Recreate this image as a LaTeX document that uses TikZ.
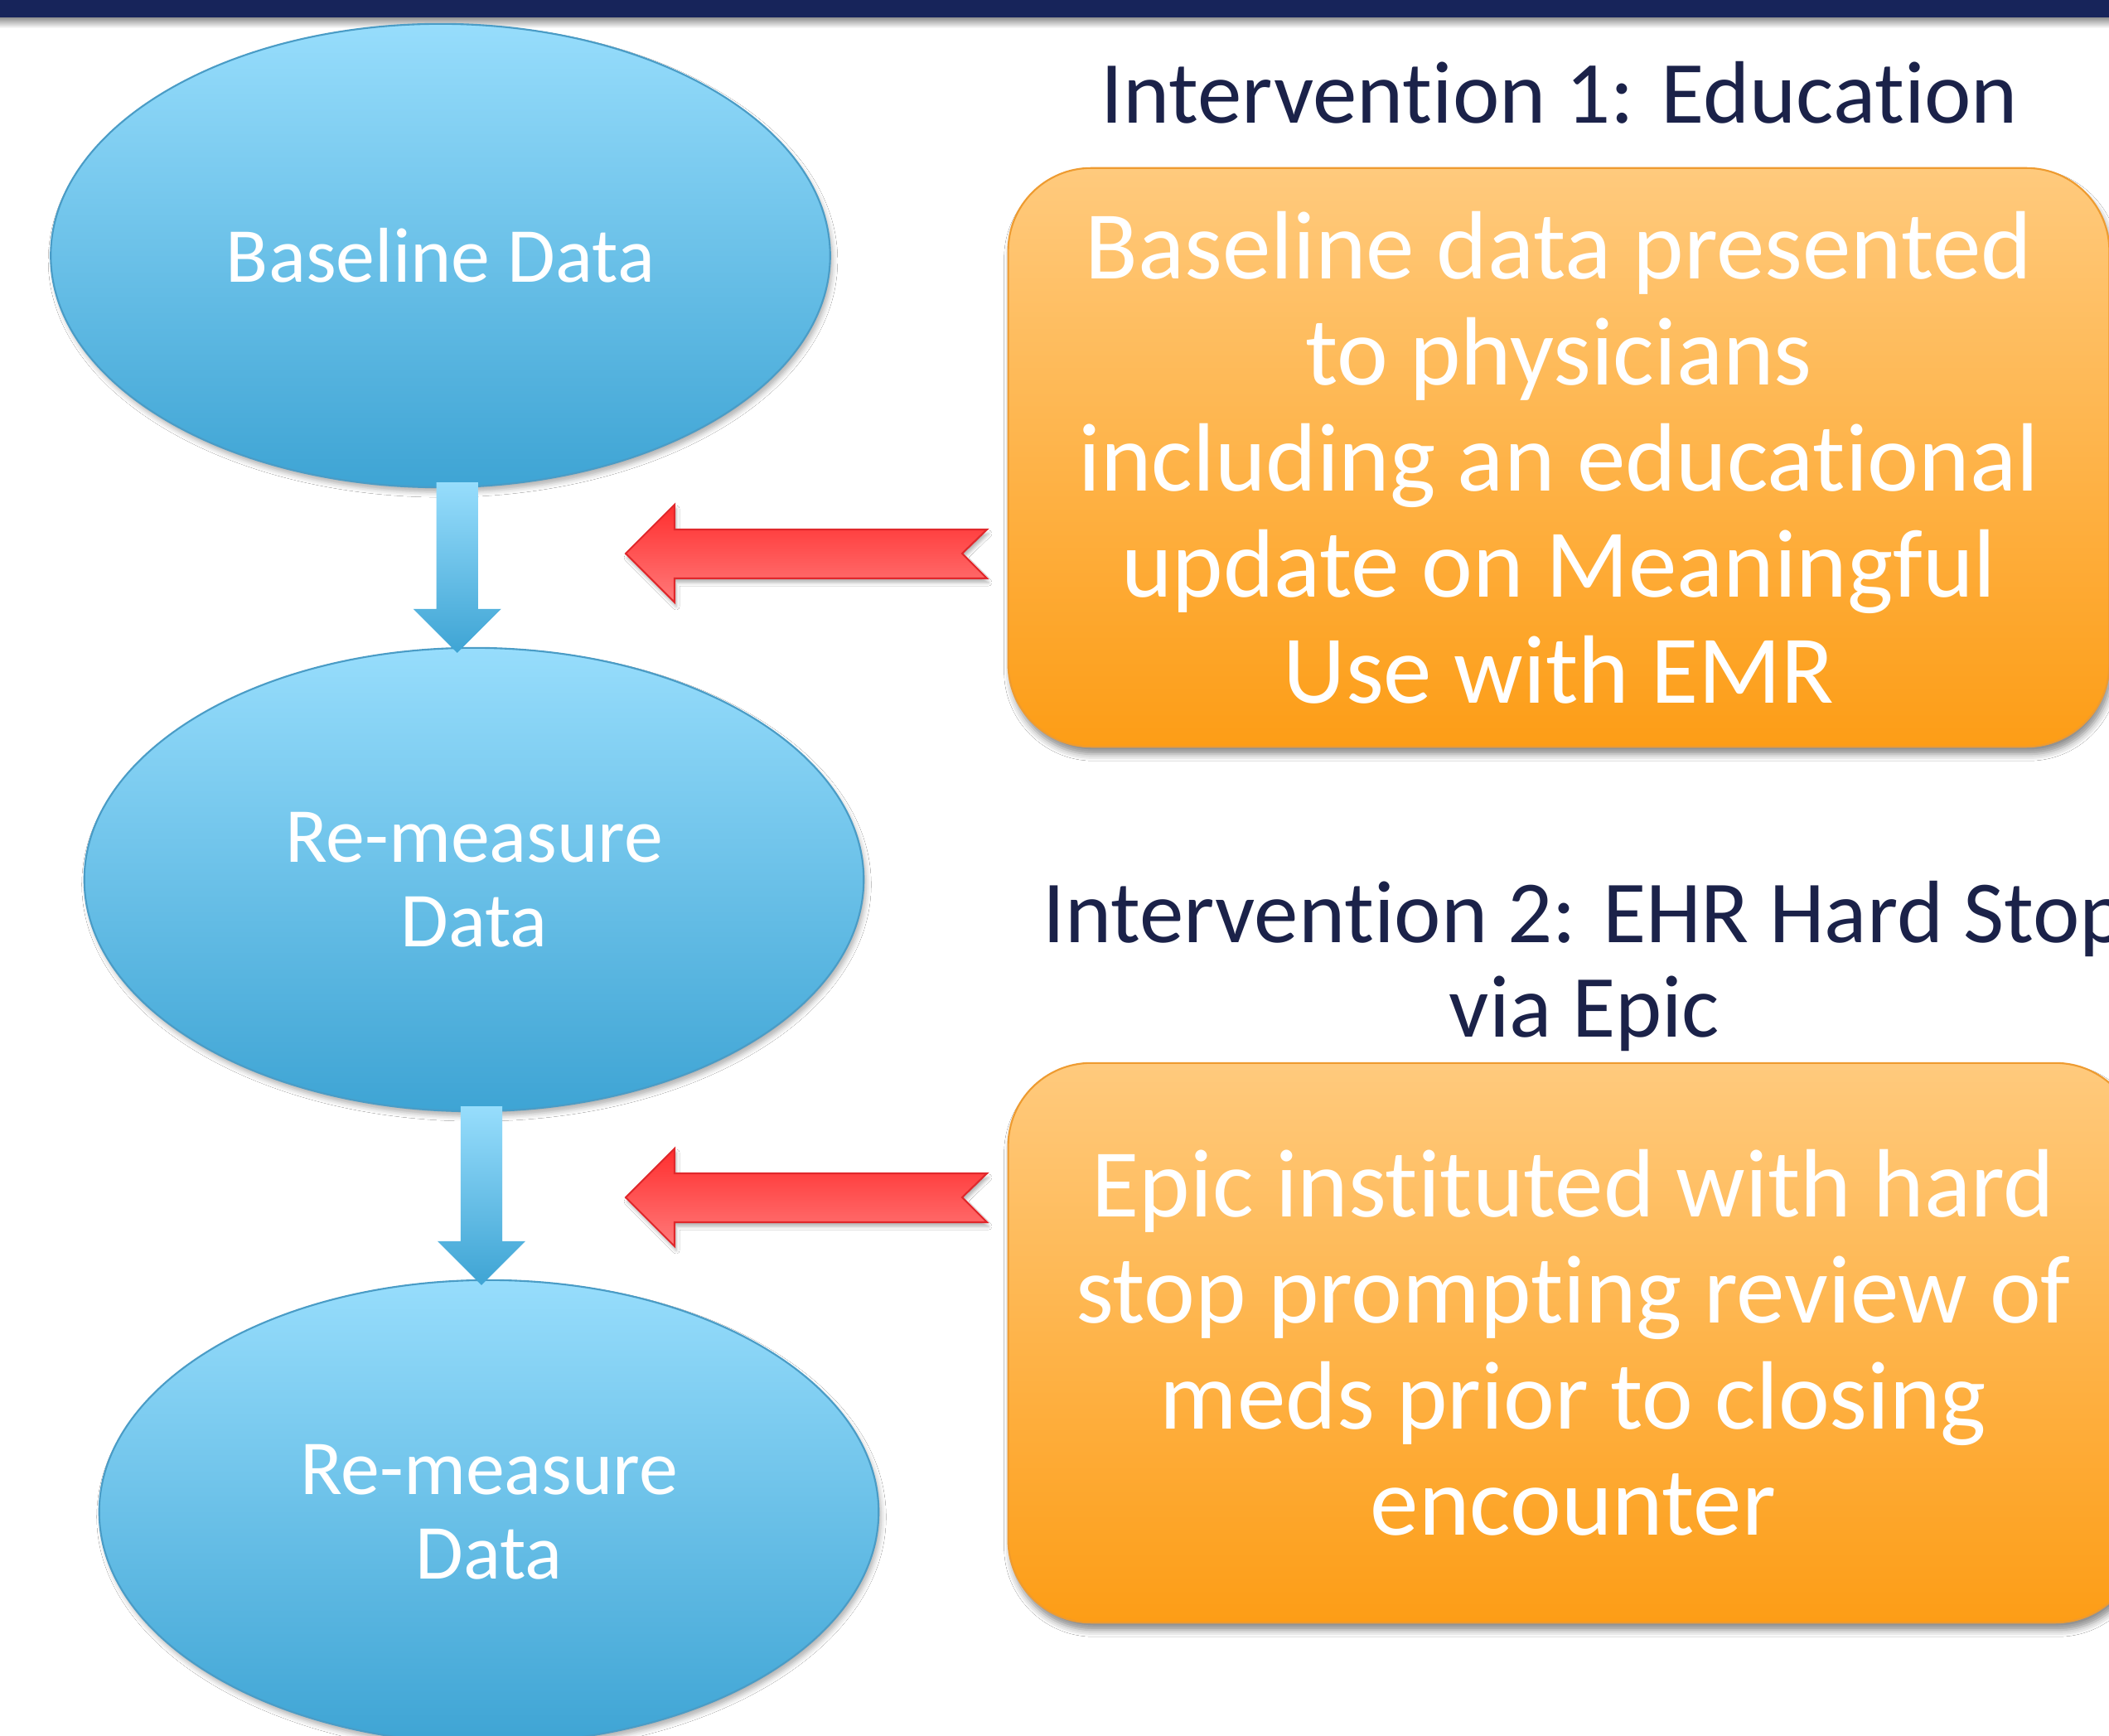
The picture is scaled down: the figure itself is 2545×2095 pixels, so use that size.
\documentclass[tikz,border=0pt]{standalone}
\usepackage{fontspec}
\setmainfont[Ligatures=NoCommon]{Carlito}
\usetikzlibrary{shapes.geometric,shadows.blur,calc,positioning}
\definecolor{navy}{HTML}{17245A}
\definecolor{titleink}{HTML}{1B2249}
\definecolor{skytop}{HTML}{97DDFC}
\definecolor{skybot}{HTML}{3EA4D4}
\definecolor{skyline}{HTML}{4A9CC6}
\definecolor{ambertop}{HTML}{FFCA7D}
\definecolor{amberbot}{HTML}{FD9D16}
\definecolor{amberline}{HTML}{EE9B30}
\definecolor{redtop}{HTML}{FF2E2E}
\definecolor{redbot}{HTML}{FF7A7A}
\definecolor{redline}{HTML}{E0282C}
\newlength\shaftw
\newlength\headw
\newlength\headl
\newlength\overlap
\setlength{\shaftw}{0.25cm}
\setlength{\headw}{0.53cm}
\setlength{\headl}{0.53cm}
\setlength{\overlap}{0.07cm}
% blue block arrow from one ellipse down to the next
\newcommand{\downflow}[2]{
   \shade[downshade] let \p1=(#1), \p2=(#2), \p3=($(#1)!.5!(#2)$) in
   (\x3-\shaftw,\y1+\overlap) --
   (\x3-\shaftw,\y2-\overlap+\headl) --
   (\x3-\headw,\y2-\overlap+\headl) --
   (\x3,\y2-\overlap) --
   (\x3+\headw,\y2-\overlap+\headl) --
   (\x3+\shaftw,\y2-\overlap+\headl) --
   (\x3+\shaftw,\y1+\overlap) -- cycle;
}
% red notched arrow, drawn from its tip
\newcommand{\redpointer}[1]{
   \shade[redshade] (#1) --
   ++(59,-59) --
   ++(0,30) --
   ++(377,0) --
   ++(-30,29) --
   ++(30,30) --
   ++(-377,0) --
   ++(0,29) -- cycle;
}

\begin{document}
\begin{tikzpicture}[x=0.01cm,y=-0.01cm,
    datanode/.style={ellipse, draw=skyline, line width=0.6pt,
      top color=skytop, bottom color=skybot, inner sep=0pt,
      minimum width=9.4cm, minimum height=5.59cm, align=center,
      text=white, font=\fontsize{26.7pt}{29pt}\selectfont,
      blur shadow={shadow xshift=0.3mm, shadow yshift=-0.6mm,
        shadow blur radius=0.6mm, shadow opacity=30}},
    notebox/.style={rectangle, rounded corners=1cm, draw=amberline,
      line width=0.6pt, top color=ambertop, bottom color=amberbot,
      inner sep=0pt, align=center, text=white,
      font=\fontsize{33.3pt}{36.4pt}\selectfont,
      blur shadow={shadow xshift=0.3mm, shadow yshift=-0.9mm,
        shadow blur radius=0.8mm, shadow opacity=45}},
    heading/.style={align=center, text=titleink, inner sep=0pt,
      font=\fontsize{30.4pt}{32.4pt}\selectfont},
    downshade/.style={top color=skytop, bottom color=skybot},
    redshade/.style={top color=redtop, bottom color=redbot,
      draw=redline, line width=0.6pt,
      blur shadow={shadow xshift=0.2mm, shadow yshift=-0.5mm,
        shadow blur radius=0.4mm, shadow opacity=30}}]
  \useasboundingbox (0,0) rectangle (2545,2095);
  \clip (0,0) rectangle (2545,2095);
  \fill[white] (0,0) rectangle (2545,2095);

  % banner
  \fill[navy] (0,0) rectangle (2545,22);
  \shade[top color=black!40, bottom color=white] (0,22) rectangle (2545,34);

  % data steps
  \node[datanode] (base) at (531.5,308.5) {Baseline Data};
  \node[datanode] (remA) at (572,1061.5) {Re-measure\\Data};
  \node[datanode] (remB) at (590,1824.5) {Re-measure\\Data};
  \downflow{base.south}{remA.north}
  \downflow{remA.south}{remB.north}

  % interventions
  \node[heading] (eduTitle) at (1882,112) {Intervention 1: Education};
  \node[notebox, minimum width=13.28cm, minimum height=6.98cm]
    (eduBox) at (1881,552)
    {Baseline data presented\\to physicians\\including an educational\\update on Meaningful\\Use with EMR};
  \node[heading] (epicTitle) at (1912,1166)
    {Intervention 2: EHR Hard Stop\\via Epic};
  \node[notebox, minimum width=13.63cm, minimum height=6.75cm]
    (epicBox) at (1898.5,1620.5)
    {Epic instituted with hard\\stop prompting review of\\meds prior to closing\\encounter};

  \coordinate (eduTip) at (755,668);
  \redpointer{eduTip}
  \coordinate (epicTip) at (755,1445);
  \redpointer{epicTip}
\end{tikzpicture}
\end{document}
